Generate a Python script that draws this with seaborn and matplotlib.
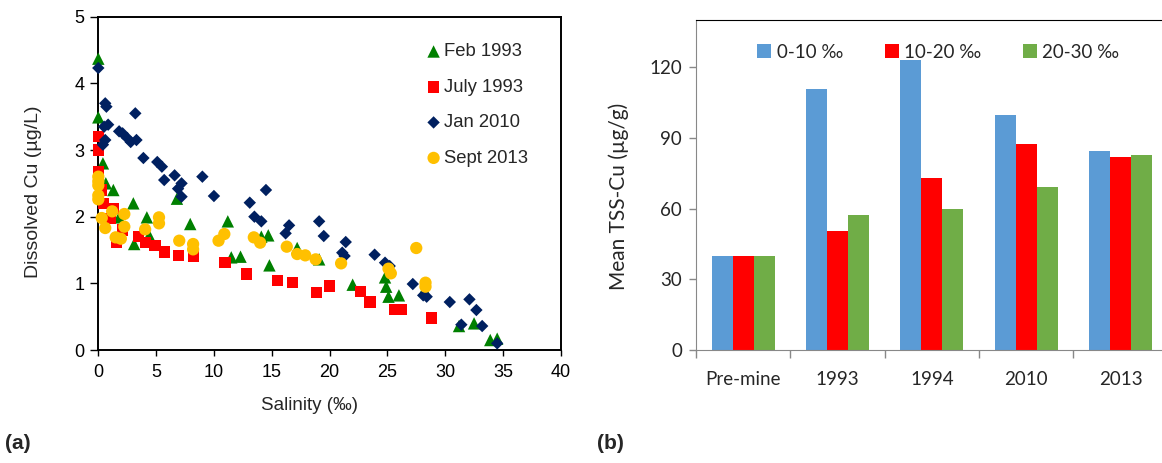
import matplotlib
matplotlib.use("Agg")
import matplotlib.pyplot as plt
import numpy as np
import pandas as pd
import seaborn as sns

# ---------------- data: panel (a) ----------------
feb_sal = [0, 0, 0.4, 0.65, 1.3, 1.8, 3.03, 3.1, 4.2, 4.4, 6.8, 7.95, 11.2, 11.5, 12.3,
           14.1, 14.7, 14.8, 17.2, 19.1, 22.0, 24.8, 24.9, 25.1, 26.0, 28.2, 31.2, 32.5, 33.9, 34.5]
feb_cu = [4.37, 3.49, 2.8, 2.5, 2.4, 1.99, 2.2, 1.59, 1.99, 1.72, 2.27, 1.89, 1.93, 1.39, 1.4,
          1.7, 1.72, 1.27, 1.53, 1.36, 0.98, 1.09, 0.95, 0.8, 0.82, 0.9, 0.36, 0.4, 0.15, 0.17]

jul_sal = [0, 0, 0, 0.3, 0.45, 1.3, 1.05, 2.1, 1.55, 3.46, 4.05, 4.9, 5.7, 6.9, 8.25,
           10.96, 12.84, 15.5, 16.8, 18.9, 20.0, 22.7, 23.5, 25.6, 26.2, 28.85]
jul_cu = [3.2, 3.0, 2.68, 2.4, 2.2, 2.12, 1.97, 1.8, 1.61, 1.7, 1.61, 1.57, 1.47, 1.42, 1.41,
          1.31, 1.14, 1.04, 1.01, 0.86, 0.96, 0.88, 0.72, 0.61, 0.61, 0.48]

jan_sal = [0, 0.6, 0.7, 3.2, 0.5, 0.85, 1.8, 2.1, 2.5, 2.8, 3.3, 0.6, 0.4, 3.9, 5.1, 5.5,
           5.7, 6.6, 6.9, 7.2, 7.2, 9.0, 10.0, 13.1, 13.5, 14.1, 14.5, 16.2, 16.5, 19.1, 19.5,
           21.4, 21.1, 21.3, 23.9, 24.8, 25.2, 27.2, 28.1, 28.4, 30.4, 32.1, 32.7, 31.4, 33.2, 34.5]
jan_cu = [4.23, 3.7, 3.65, 3.55, 3.35, 3.38, 3.28, 3.25, 3.18, 3.12, 3.15, 3.15, 3.08, 2.88,
          2.82, 2.75, 2.55, 2.62, 2.42, 2.5, 2.3, 2.6, 2.31, 2.21, 2.0, 1.93, 2.4, 1.75, 1.87,
          1.93, 1.71, 1.62, 1.46, 1.41, 1.43, 1.31, 1.26, 0.99, 0.82, 0.8, 0.72, 0.76, 0.6,
          0.38, 0.36, 0.1]

sep_sal = [0, 0, 0, 0, 0, 0.3, 0.6, 1.2, 2.25, 2.25, 1.5, 1.95, 4.05, 5.25, 5.25, 7.0, 8.2,
           8.2, 10.4, 10.9, 13.45, 14.0, 16.3, 17.2, 17.9, 18.8, 21.0, 25.1, 25.3, 27.5, 28.3, 28.3]
sep_cu = [2.6, 2.53, 2.47, 2.32, 2.26, 1.98, 1.83, 2.08, 2.04, 1.85, 1.69, 1.67, 1.81, 1.99,
          1.9, 1.64, 1.59, 1.51, 1.64, 1.74, 1.69, 1.61, 1.55, 1.44, 1.42, 1.36, 1.3, 1.22,
          1.15, 1.53, 1.01, 0.95]

series_names = ["Feb 1993", "July 1993", "Jan 2010", "Sept 2013"]

# ---------------- data: panel (b) ----------------
periods = ["Pre-mine", "1993", "1994", "2010", "2013"]
ranges = ["0-10 \u2030", "10-20 \u2030", "20-30 \u2030"]
tss_0_10 = [40, 110.7, 122.8, 99.5, 84.2]
tss_10_20 = [40, 50.5, 72.9, 87.3, 81.8]
tss_20_30 = [40, 57.3, 59.9, 69.1, 82.9]

# ---------------- style ----------------
sns.set_style("ticks")
plt.rcParams["font.family"] = ["Liberation Sans", "DejaVu Sans"]

fig = plt.figure(figsize=(11.62, 4.63), dpi=100)

# ---------------- panel (a) ----------------
ax1 = fig.add_axes([0.0846, 0.244, 0.398, 0.72])
styles = [
    (feb_sal, feb_cu, "^", "#008000", 80),
    (jul_sal, jul_cu, "s", "#FF0000", 64),
    (jan_sal, jan_cu, "D", "#002060", 40),
    (sep_sal, sep_cu, "o", "#FFC000", 78),
]
for name, (xs, ys, m, c, s) in zip(series_names, styles):
    d = pd.DataFrame({"Salinity": xs, "Cu": ys})
    sns.scatterplot(data=d, x="Salinity", y="Cu", marker=m, color=c, s=s,
                    linewidth=0, edgecolor="none", label=name, ax=ax1)
for coll in ax1.collections:
    coll.set_clip_on(False)
    coll.set_zorder(3)

ax1.set_xlim(0, 40)
ax1.set_ylim(0, 5)
ax1.set_xticks(np.arange(0, 41, 5))
ax1.set_yticks(np.arange(0, 6, 1))
for sp in ax1.spines.values():
    sp.set_visible(True)
    sp.set_color("#000000")
    sp.set_linewidth(1.4)
ax1.tick_params(axis="both", labelsize=13, direction="out", width=1, colors="#000000")
ax1.tick_params(axis="y", length=6, pad=4)
ax1.tick_params(axis="x", length=4, pad=6)
ax1.set_xlabel("Salinity (\u2030)", fontsize=13.5)
ax1.set_ylabel("Dissolved Cu (\u00b5g/L)", fontsize=14)
ax1.xaxis.set_label_coords(0.456, -0.142)
ax1.yaxis.set_label_coords(-0.121, 0.474)
ax1.legend(frameon=False, loc="upper left", bbox_to_anchor=(0.705, 0.92), fontsize=13.3,
           labelspacing=1.0, handletextpad=0.05, handlelength=1.0, borderaxespad=0,
           borderpad=0)

# ---------------- panel (b) ----------------
ax2 = fig.add_axes([0.599, 0.244, 0.4058, 0.713])
rows = []
for p, a, b, c in zip(periods, tss_0_10, tss_10_20, tss_20_30):
    rows += [(p, ranges[0], a), (p, ranges[1], b), (p, ranges[2], c)]
df = pd.DataFrame(rows, columns=["Period", "Range", "TSS"])
sns.barplot(data=df, x="Period", y="TSS", hue="Range", order=periods, hue_order=ranges,
            palette=["#5B9BD5", "#FF0000", "#70AD47"], saturation=1, width=0.667, gap=0,
            edgecolor="none", linewidth=0, ax=ax2)

ax2.set_ylim(0, 140)
ax2.set_xlim(-0.5, 4.5)
ax2.set_yticks([0, 30, 60, 90, 120])
ax2.set_xticks(np.arange(-0.5, 4.6, 1), minor=True)
ax2.tick_params(axis="x", which="major", length=0, labelsize=13.5, pad=15)
ax2.tick_params(axis="x", which="minor", length=6, width=1, color="#888888", direction="out")
ax2.tick_params(axis="y", length=5, width=1, color="#888888", direction="out", labelsize=13.5,
                pad=5)
for lab in ax2.get_xticklabels() + ax2.get_yticklabels():
    lab.set_family(["Lato", "DejaVu Sans"])
ax2.spines["left"].set_color("#888888")
ax2.spines["bottom"].set_color("#888888")
ax2.spines["top"].set_visible(True)
ax2.spines["top"].set_color("#000000")
ax2.spines["right"].set_visible(False)
ax2.set_xlabel("")
ax2.set_ylabel("Mean TSS-Cu (\u00b5g/g)", fontsize=15, family=["Lato", "DejaVu Sans"])
ax2.yaxis.set_label_coords(-0.142, 0.465)
ax2.legend(frameon=False, loc="upper left", bbox_to_anchor=(0.13, 0.928), ncol=3,
           handlelength=0.75, handleheight=0.75, handletextpad=0.3,
           columnspacing=2.2, borderaxespad=0, borderpad=0,
           prop={"family": ["Lato", "DejaVu Sans"], "size": 13.5})

fig.text(0.004, 0.03, "(a)", fontsize=15, fontweight="bold")
fig.text(0.514, 0.03, "(b)", fontsize=15, fontweight="bold")

fig.savefig("out.png", dpi=100)
